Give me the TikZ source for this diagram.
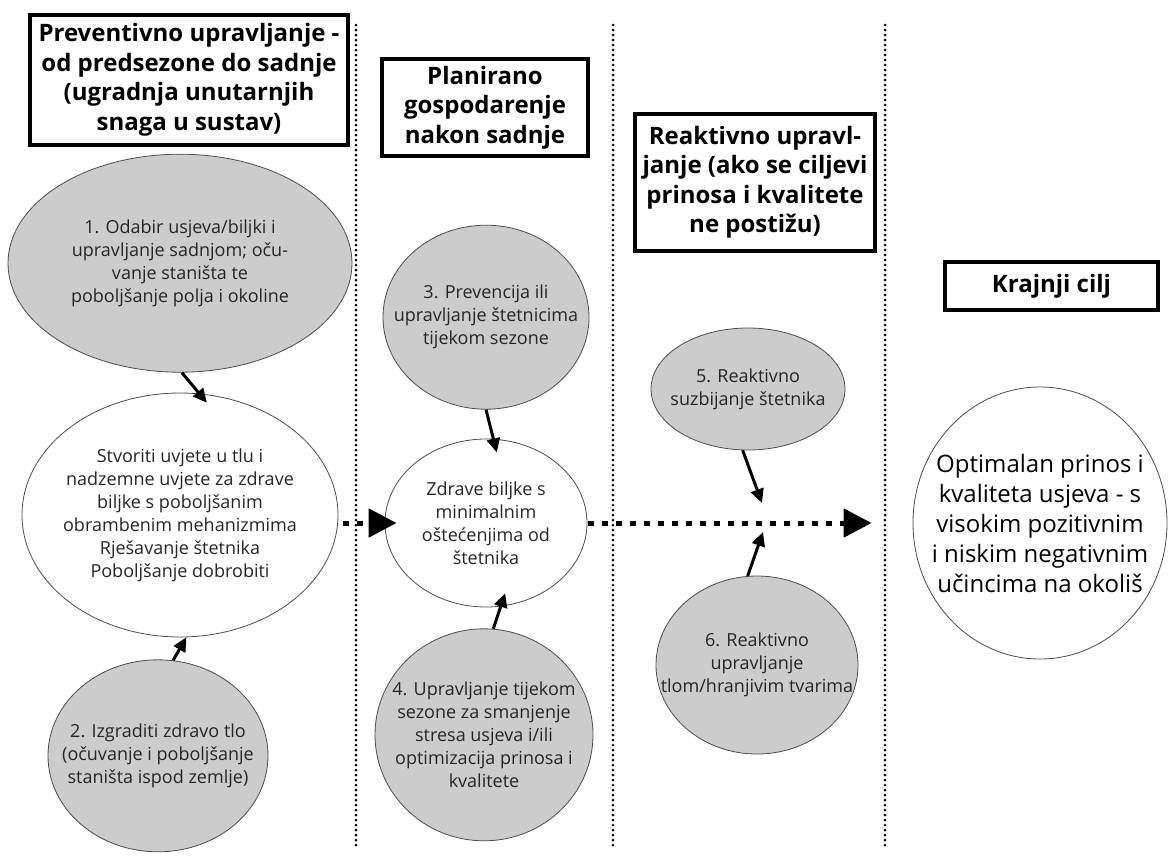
\documentclass[tikz,border=0pt]{standalone}
\usepackage{fontspec}
\setmainfont{Open Sans}
\usetikzlibrary{arrows.meta, positioning, shapes.geometric}

\begin{document}
\begin{tikzpicture}[
  x=1pt, y=-1pt,
  stage/.style={draw, rectangle, line width=3.8pt, align=center, inner sep=0pt, font=\fontsize{24}{29.5}\selectfont\bfseries},
  blob/.style={ellipse, draw=black!70, line width=0.8pt, align=center, inner xsep=-30pt, inner ysep=-10pt, text=black!85, font=\fontsize{18}{23}\selectfont},
  grayblob/.style={blob, fill=black!20},
  whiteblob/.style={blob, fill=white},
  arrow/.style={-{Triangle[length=14pt, width=13pt]}, line width=3pt},
  dottedarrow/.style={-{Triangle[length=28pt, width=28pt]}, line width=5pt, dash pattern=on 6pt off 8pt},
  divider/.style={line width=3pt, dash pattern=on 0pt off 5pt, line cap=round}
]
\useasboundingbox (0,0) rectangle (1168,855);

% Dividers
\draw[divider] (356,25) -- (356,846);
\draw[divider] (613,25) -- (613,846);
\draw[divider] (885,25) -- (885,846);

% Headers
\node[stage, minimum width=318pt, minimum height=130pt] (prevhead) at (189,80) {Preventivno upravljanje -\\od predsezone do sadnje\\(ugradnja unutarnjih\\snaga u sustav)};
\node[stage, minimum width=206pt, minimum height=97pt] (planhead) at (485,107.5) {Planirano\\gospodarenje\\nakon sadnje};
\node[stage, minimum width=240pt, minimum height=137pt] (reacthead) at (755,182.5) {Reaktivno upravl-\\janje (ako se ciljevi\\prinosa i kvalitete\\ne postižu)};
\node[stage, minimum width=213pt, minimum height=48pt] (goalhead) at (1051.5,286) {Krajnji cilj};

% Nodes
\node[whiteblob, minimum width=316pt, minimum height=244pt] (soil) at (180,515) {Stvoriti uvjete u tlu i\\nadzemne uvjete za zdrave\\biljke s poboljšanim\\obrambenim mehanizmima\\Rješavanje štetnika\\Poboljšanje dobrobiti};
\node[grayblob, minimum width=344pt, minimum height=218pt, above=20pt of soil] (choice) {1. Odabir usjeva/biljki i\\upravljanje sadnjom; oču-\\vanje staništa te\\poboljšanje polja i okoline};
\node[grayblob, minimum width=220pt, minimum height=192pt, below=22pt of soil, xshift=-22pt] (build) {2. Izgraditi zdravo tlo\\(očuvanje i poboljšanje\\staništa ispod zemlje)};

\node[whiteblob, minimum width=202pt, minimum height=168pt] (healthy) at (486,523) {Zdrave biljke s\\minimalnim\\oštećenjima od\\štetnika};
\node[grayblob, minimum width=206pt, minimum height=184pt, above=29pt of healthy] (season) {3. Prevencija ili\\upravljanje štetnicima\\tijekom sezone};
\node[grayblob, minimum width=218pt, minimum height=212pt, below=21pt of healthy, xshift=-2pt] (tune) {4. Upravljanje tijekom\\sezone za smanjenje\\stresa usjeva i/ili\\optimizacija prinosa i\\kvalitete};

\node[grayblob, minimum width=194pt, minimum height=122pt] (suppress) at (748,389) {5. Reaktivno\\suzbijanje štetnika};
\node[grayblob, minimum width=202pt, minimum height=178pt] (nutrients) at (757,665) {6. Reaktivno\\upravljanje\\tlom/hranjivim tvarima};

\node[whiteblob, minimum width=254pt, minimum height=272pt, text=black, font=\fontsize{24}{30}\selectfont] (goal) at (1040,523) {Optimalan prinos i\\kvaliteta usjeva - s\\visokim pozitivnim\\i niskim negativnim\\učincima na okoliš};

\coordinate (hit5) at (762,503);
\coordinate (hit6) at (763,532);

% Arrows
\draw[arrow, shorten >=-12pt] (choice.-89) -- (soil.81);
\draw[arrow] (build.81) -- (soil.-87);
\draw[arrow, shorten >=-14pt] (season.-90) -- (healthy.85);
\draw[arrow, shorten >=-14pt] (tune.85) -- (healthy.-80);
\draw[arrow] (suppress.-95) -- (hit5);
\draw[arrow] (nutrients.96) -- (hit6);

% Dotted arrows
\draw[dottedarrow, shorten <=5pt, shorten >=-12pt] (soil.east |- healthy.west) -- (healthy.west);
\draw[dottedarrow, shorten <=1pt, shorten >=41pt] (healthy.east) -- (goal.west);

\end{tikzpicture}
\end{document}
